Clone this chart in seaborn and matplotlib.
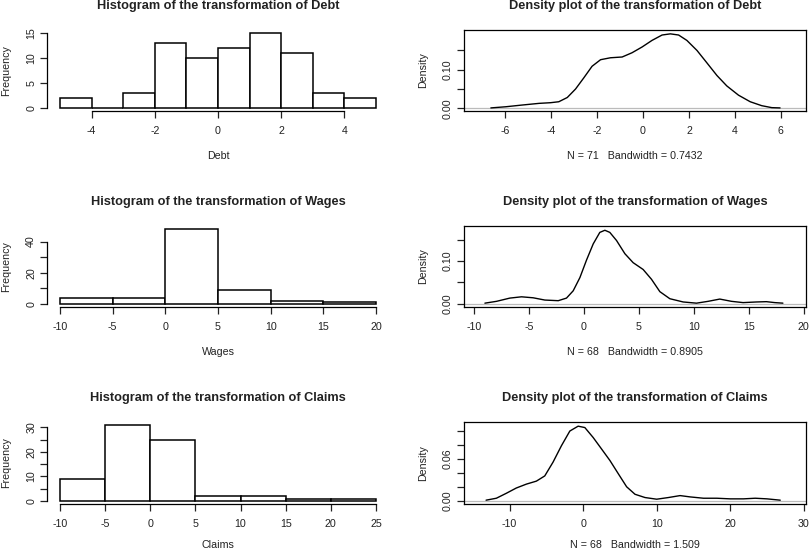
import matplotlib
matplotlib.use('Agg')
import matplotlib.pyplot as plt
import numpy as np
import pandas as pd
import seaborn as sns

sns.set_style('white')
plt.rcParams['font.family'] = ['Liberation Sans', 'DejaVu Sans']
plt.rcParams['axes.unicode_minus'] = False
plt.rcParams['text.color'] = '#222222'
plt.rcParams['axes.labelcolor'] = '#222222'
plt.rcParams['xtick.color'] = '#222222'
plt.rcParams['ytick.color'] = '#222222'

# Histogram data (bin edges and counts)
debt_edges = [-5, -4, -3, -2, -1, 0, 1, 2, 3, 4, 5]
debt_counts = [2, 0, 3, 13, 10, 12, 15, 11, 3, 2]
wages_edges = [-10, -5, 0, 5, 10, 15, 20]
wages_counts = [4, 4, 48, 9, 2, 1]
claims_edges = [-10, -5, 0, 5, 10, 15, 20, 25]
claims_counts = [9, 31, 25, 2, 2, 1, 1]

# Density curves
debt_x = [-6.63, -5.98, -5.26, -4.53, -4.03, -3.67, -3.30, -2.94, -2.58,
          -2.22, -1.85, -1.42, -0.91, -0.48, -0.04, 0.39, 0.83, 1.19, 1.55,
          1.91, 2.35, 2.78, 3.22, 3.65, 4.16, 4.67, 5.17, 5.61, 5.97]
debt_y = [0.001, 0.004, 0.0085, 0.0128, 0.0145, 0.017, 0.028, 0.050, 0.079,
          0.109, 0.126, 0.131, 0.133, 0.144, 0.159, 0.176, 0.190, 0.193,
          0.190, 0.176, 0.150, 0.118, 0.085, 0.058, 0.034, 0.017, 0.0068,
          0.0017, 0.001]
wages_x = [-9.0, -7.94, -6.73, -5.67, -4.61, -3.55, -2.33, -1.58, -0.97,
           -0.36, 0.24, 0.85, 1.45, 1.91, 2.36, 2.97, 3.73, 4.48, 5.39, 6.15,
           6.91, 7.82, 9.03, 10.24, 11.3, 12.36, 13.42, 14.48, 15.7, 16.6,
           17.36, 18.1]
wages_y = [0.001, 0.0053, 0.0129, 0.0159, 0.0136, 0.0083, 0.0068, 0.0129,
           0.030, 0.061, 0.102, 0.140, 0.167, 0.172, 0.167, 0.148, 0.117,
           0.096, 0.080, 0.057, 0.028, 0.0114, 0.0038, 0.001, 0.0053, 0.0106,
           0.0053, 0.0023, 0.0038, 0.0045, 0.0023, 0.001]
claims_x = [-13.2, -11.8, -10.45, -9.09, -7.72, -6.36, -5.22, -4.09, -2.95,
            -1.81, -0.68, 0.23, 1.36, 2.5, 3.64, 4.77, 5.91, 7.05, 8.41,
            10.0, 11.59, 13.18, 14.55, 16.36, 18.18, 20.0, 21.8, 23.4, 25.0,
            26.8]
claims_y = [0.0005, 0.0033, 0.0104, 0.018, 0.0236, 0.0279, 0.0354, 0.0553,
            0.0789, 0.100, 0.107, 0.105, 0.0907, 0.0742, 0.0576, 0.0387,
            0.0198, 0.009, 0.0043, 0.0019, 0.0043, 0.0071, 0.0052, 0.0033,
            0.0033, 0.0024, 0.0024, 0.0033, 0.0024, 0.0005]

names = ['Debt', 'Wages', 'Claims']
hist_data = [(debt_edges, debt_counts), (wages_edges, wages_counts),
             (claims_edges, claims_counts)]
dens_data = [(debt_x, debt_y), (wages_x, wages_y), (claims_x, claims_y)]
dens_labels = ['N = 71   Bandwidth = 0.7432', 'N = 68   Bandwidth = 0.8905',
               'N = 68   Bandwidth = 1.509']

hist_xticks = [[-4, -2, 0, 2, 4], list(range(-10, 21, 5)), list(range(-10, 26, 5))]
hist_yticks = [[0, 5, 10, 15], list(range(0, 41, 10)), list(range(0, 31, 5))]
hist_ylabels = [['0', '5', '10', '15'], ['0', '', '20', '', '40'],
                ['0', '', '10', '', '20', '', '30']]
dens_xticks = [list(range(-6, 7, 2)), list(range(-10, 21, 5)), list(range(-10, 31, 10))]
dens_yticks = [[0, 0.05, 0.10, 0.15], [0, 0.05, 0.10, 0.15],
               [0, 0.02, 0.04, 0.06, 0.08, 0.10]]
dens_ylabels = [['0.00', '', '0.10', ''], ['0.00', '', '0.10', ''],
                ['0.00', '', '', '0.06', '', '']]
dens_xlim = [(-7.8, 7.1), (-10.9, 20.2), (-16.2, 30.3)]
dens_ylim = [(-0.007, 0.203), (-0.008, 0.182), (-0.005, 0.113)]

W, H = 809, 552
fig = plt.figure(figsize=(W / 100, H / 100), dpi=100)
fig.patch.set_facecolor('white')

rows = [(30, 111), (226, 307), (422, 504)]
xlabel_pads = [10.5, 10.5, 8.0]
left_box = (47.4, 388.6)
right_box = (464, 806)


def px_axes(x0, x1, y0, y1):
    return fig.add_axes([x0 / W, 1 - y1 / H, (x1 - x0) / W, (y1 - y0) / H])


def style_ticks(ax):
    ax.tick_params(axis='both', direction='out', length=5, width=0.9,
                   labelsize=7.7, bottom=True, left=True, colors='#222222')
    ax.tick_params(axis='x', pad=6)
    ax.tick_params(axis='y', pad=3)
    for lab in ax.get_yticklabels():
        lab.set_rotation(90)
        lab.set_va('center')


for i, name in enumerate(names):
    y0, y1 = rows[i]

    # Histogram
    ax = px_axes(left_box[0], left_box[1], y0, y1)
    edges, counts = hist_data[i]
    edges = np.array(edges, dtype=float)
    df = pd.DataFrame({'mid': (edges[:-1] + edges[1:]) / 2,
                       'n': np.array(counts, dtype=float)})
    sns.histplot(data=df, x='mid', weights='n', bins=list(edges), ax=ax,
                 color='white', edgecolor='black', linewidth=1.1, alpha=1)
    span = edges[-1] - edges[0]
    ax.set_xlim(edges[0] - 0.04 * span, edges[-1] + 0.04 * span)
    top = max(counts)
    ax.set_ylim(-0.04 * top, top * 1.04)
    ax.set_xticks(hist_xticks[i])
    ax.set_yticks(hist_yticks[i])
    ax.set_yticklabels(hist_ylabels[i])
    for s in ['top', 'right']:
        ax.spines[s].set_visible(False)
    for s in ['left', 'bottom']:
        ax.spines[s].set_visible(True)
        ax.spines[s].set_color('black')
        ax.spines[s].set_linewidth(0.9)
    ax.spines['bottom'].set_bounds(hist_xticks[i][0], hist_xticks[i][-1])
    ax.spines['left'].set_bounds(hist_yticks[i][0], hist_yticks[i][-1])
    ax.set_xlabel(name, fontsize=7.7, labelpad=xlabel_pads[i])
    ax.set_ylabel('Frequency', fontsize=7.7, labelpad=11)
    style_ticks(ax)
    ax.annotate(f'Histogram of the transformation of {name}', xy=(0.5, 1),
                xycoords='axes fraction', xytext=(0, 24),
                textcoords='offset pixels', ha='center', va='center',
                fontsize=9.2, fontweight='bold')

    # Density
    ax = px_axes(right_box[0], right_box[1], y0, y1)
    dx, dy = dens_data[i]
    ax.axhline(0, color='#bbbbbb', linewidth=0.9, zorder=0)
    sns.lineplot(x=dx, y=dy, ax=ax, color='black', linewidth=1.0)
    ax.set_xlim(*dens_xlim[i])
    ax.set_ylim(*dens_ylim[i])
    ax.set_xticks(dens_xticks[i])
    ax.set_yticks(dens_yticks[i])
    ax.set_yticklabels(dens_ylabels[i])
    for s in ax.spines.values():
        s.set_visible(True)
        s.set_color('black')
        s.set_linewidth(0.9)
    ax.set_xlabel(dens_labels[i], fontsize=7.7, labelpad=xlabel_pads[i])
    ax.set_ylabel('Density', fontsize=7.7, labelpad=10.5)
    style_ticks(ax)
    ax.annotate(f'Density plot of the transformation of {name}', xy=(0.5, 1),
                xycoords='axes fraction', xytext=(0, 24),
                textcoords='offset pixels', ha='center', va='center',
                fontsize=9.2, fontweight='bold')

fig.savefig('out.png', dpi=100, facecolor='white')
